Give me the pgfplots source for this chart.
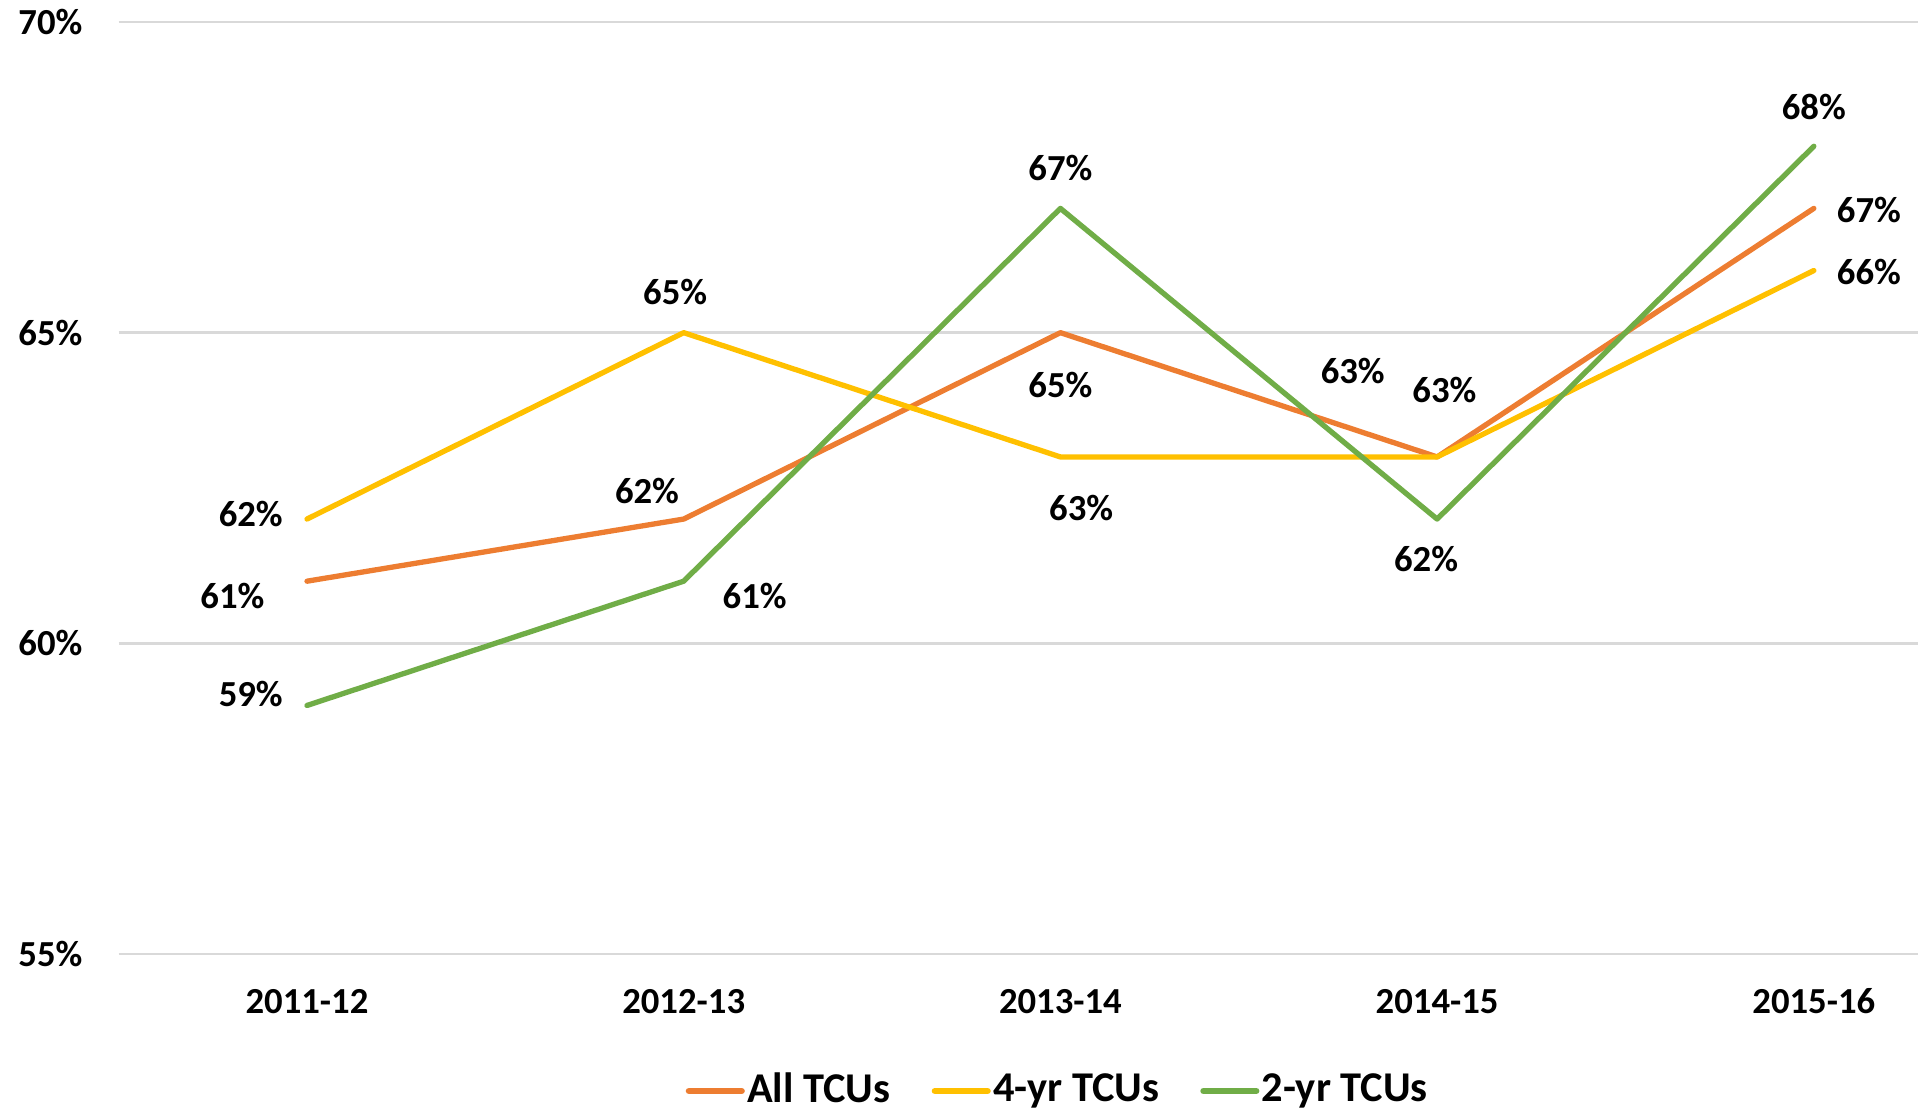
\documentclass[border=0pt]{standalone}
\usepackage{fontspec}
\setmainfont{Carlito}
\usepackage{pgfplots}
\pgfplotsset{compat=1.18}
\usetikzlibrary{calc}
\definecolor{allc}{HTML}{ED7D31}
\definecolor{fourc}{HTML}{FFC000}
\definecolor{twoc}{HTML}{70AD47}
\definecolor{gridc}{HTML}{D9D9D9}

% x, value, label offset (dx, dy) in px of the 1568-wide reference
\pgfplotstableread{
x y dx dy
0 61 -61 -12
1 62 -30 23
2 65 0 -43
3 63 -69 70
4 67 45 -1
}\alltcu
\pgfplotstableread{
x y dx dy
0 62 -46 4
1 65 -7 33
2 63 17 -42
3 63 6 55
4 66 45 -1
}\fourtcu
\pgfplotstableread{
x y dx dy
0 59 -46 9
1 61 58 -12
2 67 0 33
3 62 -9 -33
4 68 0 32
}\twotcu

\begin{document}
\begin{tikzpicture}
\begin{axis}[
  name=ax,
  scale only axis,
  width=441.3pt, height=228.6pt,
  xmin=-0.5, xmax=4.276,
  ymin=55, ymax=70,
  xtick={0,1,2,3,4},
  xticklabels={2011-12,2012-13,2013-14,2014-15,2015-16},
  ytick={55,60,65,70},
  yticklabels={55\%,60\%,65\%,70\%},
  axis line style={draw=none},
  major tick length=0pt,
  ymajorgrids,
  grid style={gridc, line width=0.6pt},
  tick label style={font=\bfseries\fontsize{9}{11}\selectfont},
  xticklabel style={anchor=base, inner sep=0pt, yshift=-14.5pt},
  yticklabel style={anchor=east, inner sep=0pt, xshift=-8.7pt},
  /pgf/number format/assume math mode=true,
  every axis plot/.append style={line width=1.3pt, line cap=round, line join=round},
  visualization depends on={\thisrow{dx}*0.3 \as \dx},
  visualization depends on={\thisrow{dy}*0.3 \as \dy},
  nodes near coords={\pgfmathprintnumber{\pgfplotspointmeta}\%},
  nodes near coords style={font=\bfseries\fontsize{9}{11}\selectfont, text=black,
    anchor=center, inner sep=0pt, xshift=\dx pt, yshift=\dy pt},
  legend columns=3,
  legend style={at={(0.5221,-0.147)}, anchor=center, draw=none,
    font=\bfseries\fontsize{10.4}{12}\selectfont, inner sep=0pt,
    nodes={inner xsep=0.6pt, inner ysep=1pt},
    /tikz/every even column/.append style={column sep=9.5pt}},
  legend image code/.code={\draw[#1, line width=1.6pt] (0pt,0pt) -- (12.9pt,0pt);},
  clip=false,
]
\addplot[allc] table[x=x, y=y] {\alltcu};
\addplot[fourc] table[x=x, y=y] {\fourtcu};
\addplot[twoc] table[x=x, y=y] {\twotcu};
\legend{All TCUs, 4-yr TCUs, 2-yr TCUs}
\end{axis}
\path[use as bounding box] ($(ax.south west)+(-29.1pt,-38.1pt)$) rectangle ($(ax.north east)+(0pt,5.4pt)$);
\end{tikzpicture}
\end{document}
